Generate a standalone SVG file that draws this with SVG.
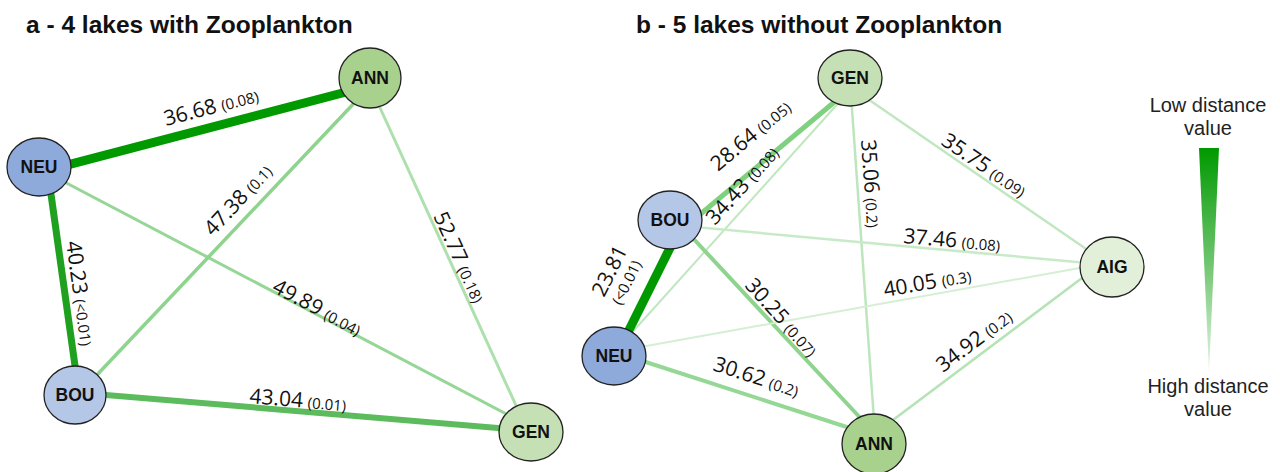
<svg xmlns="http://www.w3.org/2000/svg" width="1280" height="472" viewBox="0 0 1280 472">
<defs>
<linearGradient id="legGrad" x1="0" y1="0" x2="0" y2="1">
<stop offset="0" stop-color="#009900"/>
<stop offset="0.5" stop-color="#6cc46c"/>
<stop offset="1" stop-color="#e4f5e4"/>
</linearGradient>
</defs>
<style>
.title{font-family:"Liberation Sans",Arial,sans-serif;font-weight:bold;font-size:24.5px;fill:#111}
.node ellipse{stroke:#222;stroke-width:1.3}
.node text{font-family:"Liberation Sans",Arial,sans-serif;font-weight:bold;font-size:17.5px;fill:#111;text-anchor:middle}
.el{font-family:"Open Sans","Liberation Sans",sans-serif;font-size:21px;fill:#111}
.p{font-size:15px}
.leg{font-family:"Liberation Sans",Arial,sans-serif;font-size:20px;fill:#222;text-anchor:middle}
.blue1{fill:#8eaadb}.blue2{fill:#b4c7e7}.grn1{fill:#a9d18e}.grn2{fill:#c5e0b4}.grn3{fill:#e2f0d9}
line{stroke-linecap:butt}
</style>
<rect width="1280" height="472" fill="#ffffff"/>
<text class="title" x="26" y="33">a - 4 lakes with Zooplankton</text>
<text class="title" x="636" y="33">b - 5 lakes without Zooplankton</text>

<g id="connectors">
<!-- panel a -->
<line x1="62" y1="166.4" x2="350" y2="91" stroke="#009900" stroke-width="9"/>
<line x1="49" y1="180" x2="77" y2="380" stroke="#1fa01f" stroke-width="7"/>
<line x1="55" y1="177" x2="510" y2="416" stroke="#96d696" stroke-width="3"/>
<line x1="95" y1="377" x2="358" y2="99" stroke="#8ed38e" stroke-width="3.5"/>
<line x1="376" y1="99" x2="519" y2="412" stroke="#aee0ae" stroke-width="3"/>
<line x1="100" y1="394.4" x2="510" y2="429" stroke="#5cbb5c" stroke-width="6"/>
<!-- panel b -->
<line x1="697" y1="217" x2="838" y2="99" stroke="#7fd07f" stroke-width="5"/>
<line x1="842" y1="99" x2="628" y2="337" stroke="#bfe7bf" stroke-width="2"/>
<line x1="851" y1="95" x2="874" y2="420" stroke="#bde6bd" stroke-width="2.5"/>
<line x1="862" y1="95" x2="1092" y2="253" stroke="#c0e7c0" stroke-width="2.5"/>
<line x1="695" y1="227" x2="1088" y2="263" stroke="#c8eac8" stroke-width="2.5"/>
<line x1="690" y1="235" x2="866" y2="424" stroke="#8ed48e" stroke-width="4"/>
<line x1="638" y1="347.5" x2="1088" y2="266.5" stroke="#d5efd5" stroke-width="2"/>
<line x1="638" y1="359.5" x2="856" y2="430" stroke="#95d795" stroke-width="4"/>
<line x1="885" y1="426" x2="1090" y2="272" stroke="#b5e3b5" stroke-width="2.5"/>
<line x1="625" y1="338" x2="675" y2="238" stroke="#009900" stroke-width="9"/>
</g>

<g id="edge-labels">
<!-- panel a -->
<text class="el" transform="translate(166,126) rotate(-14.7)">36.68<tspan class="p" dx="5">(0.08)</tspan></text>
<text class="el" transform="translate(66,242) rotate(82)">40.23<tspan class="p" dx="5">(&lt;0.01)</tspan></text>
<text class="el" transform="translate(271,291) rotate(28)">49.89<tspan class="p" dx="5">(0.04)</tspan></text>
<text class="el" transform="translate(213,237) rotate(-47)">47.38<tspan class="p" dx="5">(0.1)</tspan></text>
<text class="el" transform="translate(433,216) rotate(65.4)">52.77<tspan class="p" dx="5">(0.18)</tspan></text>
<text class="el" transform="translate(249,403) rotate(4.9)">43.04<tspan class="p" dx="5">(0.01)</tspan></text>
<!-- panel b -->
<text class="el" transform="translate(718,172) rotate(-40)">28.64<tspan class="p" dx="5">(0.05)</tspan></text>
<text class="el" transform="translate(715,226) rotate(-48)">34.43<tspan class="p" dx="5">(0.08)</tspan></text>
<text class="el" transform="translate(861,140) rotate(86)">35.06<tspan class="p" dx="5">(0.2)</tspan></text>
<text class="el" transform="translate(940,144) rotate(34)">35.75<tspan class="p" dx="5">(0.09)</tspan></text>
<text class="el" transform="translate(903,243) rotate(5)">37.46<tspan class="p" dx="5">(0.08)</tspan></text>
<text class="el" transform="translate(885,297) rotate(-10)">40.05<tspan class="p" dx="5">(0.3)</tspan></text>
<text class="el" transform="translate(943,373) rotate(-37)">34.92<tspan class="p" dx="5">(0.2)</tspan></text>
<text class="el" transform="translate(744,286) rotate(48)">30.25<tspan class="p" dx="5">(0.07)</tspan></text>
<text class="el" transform="translate(712,370) rotate(18)">30.62<tspan class="p" dx="5">(0.2)</tspan></text>
<text class="el" transform="translate(604,298) rotate(-63.4)">23.81</text>
<text class="el p" transform="translate(621,306) rotate(-63.4)">(&lt;0.01)</text>
</g>

<!-- panel a nodes -->
<g id="a-NEU" class="node"><ellipse class="blue1" cx="39" cy="167" rx="32" ry="29"/><text x="39" y="173">NEU</text></g>
<g id="a-ANN" class="node"><ellipse class="grn1" cx="370" cy="78" rx="31" ry="30"/><text x="370" y="84">ANN</text></g>
<g id="a-BOU" class="node"><ellipse class="blue2" cx="75" cy="395" rx="31" ry="29"/><text x="75" y="401">BOU</text></g>
<g id="a-GEN" class="node"><ellipse class="grn2" cx="531" cy="432" rx="32" ry="29"/><text x="531" y="438">GEN</text></g>
<!-- panel b nodes -->
<g id="b-GEN" class="node"><ellipse class="grn2" cx="850" cy="78" rx="32" ry="28"/><text x="850" y="84">GEN</text></g>
<g id="b-BOU" class="node"><ellipse class="blue2" cx="670" cy="220" rx="32" ry="29"/><text x="670" y="226">BOU</text></g>
<g id="b-NEU" class="node"><ellipse class="blue1" cx="614" cy="356" rx="32" ry="29"/><text x="614" y="362">NEU</text></g>
<g id="b-ANN" class="node"><ellipse class="grn1" cx="874" cy="444" rx="32" ry="30"/><text x="874" y="450">ANN</text></g>
<g id="b-AIG" class="node"><ellipse class="grn3" cx="1112" cy="267" rx="32" ry="30"/><text x="1112" y="273">AIG</text></g>

<g id="legend">
<text class="leg" x="1208" y="112">Low distance</text>
<text class="leg" x="1208" y="135">value</text>
<polygon points="1199,148 1219,148 1209,372" fill="url(#legGrad)"/>
<text class="leg" x="1208" y="393">High distance</text>
<text class="leg" x="1208" y="416">value</text>
</g>
</svg>
